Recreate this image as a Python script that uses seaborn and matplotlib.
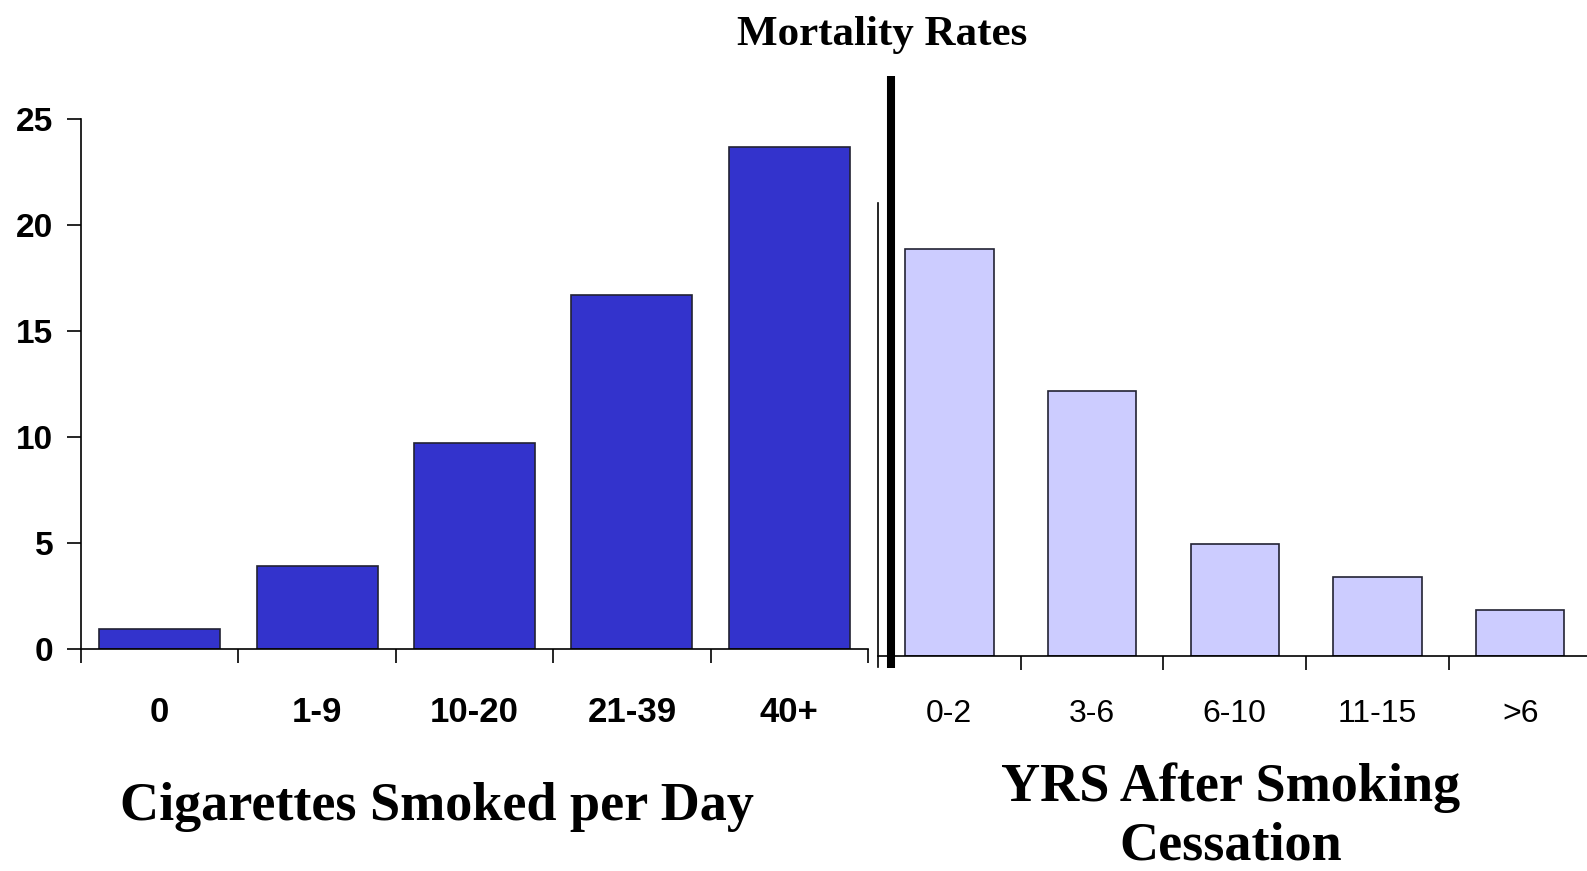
import matplotlib
matplotlib.use("Agg")
import matplotlib.pyplot as plt
from matplotlib.lines import Line2D
import seaborn as sns

# Data
smoked_cats = ["0", "1-9", "10-20", "21-39", "40+"]
smoked_rates = [0.95, 3.9, 9.7, 16.7, 23.7]

quit_cats = ["0-2", "3-6", "6-10", "11-15", ">6"]
quit_rates = [19.2, 12.5, 5.3, 3.75, 2.15]

y_ticks = [0, 5, 10, 15, 20, 25]

sns.set_style("white")
plt.rcParams["font.family"] = ["Liberation Sans", "DejaVu Sans"]
plt.rcParams["text.color"] = "black"
plt.rcParams["xtick.color"] = "black"
plt.rcParams["ytick.color"] = "black"
plt.rcParams["xtick.labelcolor"] = "black"
plt.rcParams["ytick.labelcolor"] = "black"

W, H = 1587, 871
fig = plt.figure(figsize=(W / 100, H / 100), dpi=100)

dark_blue = "#3333CC"
light_blue = "#CCCCFF"
edge = "#222233"

# Left panel: cigarettes smoked per day
ax1 = fig.add_axes([81 / W, 1 - 648.7 / H, (868 - 81) / W, 529.3 / H])
sns.barplot(x=smoked_cats, y=smoked_rates, color=dark_blue, saturation=1,
            width=0.77, edgecolor=edge, linewidth=1.2, ax=ax1)
ax1.set_xlim(-0.5, 4.5)
ax1.set_ylim(0, 25)
ax1.set_yticks(y_ticks)
ax1.set_yticklabels([str(t) for t in y_ticks], fontsize=24, fontweight="bold")
ax1.tick_params(axis="y", direction="out", length=10, width=1.2, pad=10, left=True)
ax1.set_xticks(range(len(smoked_cats)))
ax1.set_xticklabels(smoked_cats, fontsize=25, fontweight="bold")
ax1.set_xticks([i - 0.5 for i in range(len(smoked_cats) + 1)], minor=True)
ax1.tick_params(axis="x", which="major", length=0, pad=34)
ax1.tick_params(axis="x", which="minor", direction="out", length=10, width=1.2, bottom=True)
for s in ["top", "right"]:
    ax1.spines[s].set_visible(False)
for s in ["left", "bottom"]:
    ax1.spines[s].set_linewidth(1.2)
    ax1.spines[s].set_color("black")

# Right panel: years after smoking cessation
ax2 = fig.add_axes([878 / W, 1 - 656 / H, 5 * 142.7 / W, 529.3 / H])
sns.barplot(x=quit_cats, y=quit_rates, color=light_blue, saturation=1,
            width=0.62, edgecolor=edge, linewidth=1.2, ax=ax2)
ax2.set_xlim(-0.5, 4.5)
ax2.set_ylim(0, 25)
ax2.set_yticks([])
ax2.set_xticks(range(len(quit_cats)))
ax2.set_xticklabels(quit_cats, fontsize=23)
ax2.set_xticks([i + 0.5 for i in range(len(quit_cats))], minor=True)
ax2.tick_params(axis="x", which="major", length=0, pad=31)
ax2.tick_params(axis="x", which="minor", direction="out", length=10, width=1.2, bottom=True)
ax2.spines["left"].set_bounds(-0.5, 21.4)
for s in ["top", "right"]:
    ax2.spines[s].set_visible(False)
for s in ["left", "bottom"]:
    ax2.spines[s].set_linewidth(1.2)
    ax2.spines[s].set_color("black")

# Thick divider between the two panels
fig.add_artist(Line2D([891 / W, 891 / W], [1 - 76 / H, 1 - 668 / H],
                      lw=5.8, color="black", solid_capstyle="butt",
                      transform=fig.transFigure))

serif = ["Liberation Serif", "DejaVu Serif"]
fig.text(882 / W, 1 - 35 / H, "Mortality Rates", ha="center", va="center",
         fontsize=31, fontweight="bold", family=serif)
fig.text(437 / W, 1 - 807 / H, "Cigarettes Smoked per Day", ha="center", va="center",
         fontsize=39, fontweight="bold", family=serif)
fig.text(1231 / W, 1 - 817 / H, "YRS After Smoking\nCessation", ha="center", va="center",
         fontsize=39, fontweight="bold", family=serif, linespacing=1.24)

fig.savefig("out.png", dpi=100)
